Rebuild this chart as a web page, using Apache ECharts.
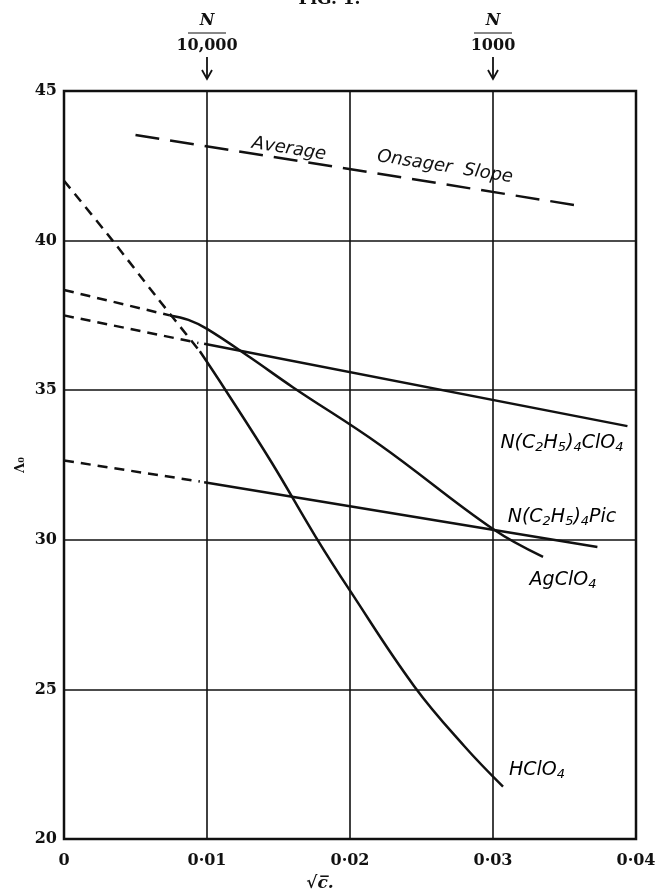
<!DOCTYPE html>
<html><head><meta charset="utf-8">
<script src="https://cdn.jsdelivr.net/npm/echarts@6/dist/echarts.min.js"></script>
<style>html,body{margin:0;padding:0;background:#fff}#c{width:659px;height:895px}</style>
</head><body><div id="c"></div>
<script>
// ---- data ----
const xTicks = [0, 0.01, 0.02, 0.03, 0.04];
const yTicks = [20, 25, 30, 35, 40, 45];
const onsagerSlope = [[0.005, 43.53], [0.0357, 41.19]];
const hclo4Extrap = [[0, 42.0], [0.0034, 40.0], [0.0065, 38.1], [0.0095, 36.3]];
const hclo4 = [[0.0095, 36.3], [0.0113, 35.0], [0.0145, 32.6], [0.0176, 30.1], [0.02, 28.3], [0.0245, 25.1], [0.028, 23.1], [0.0307, 21.75]];
const agclo4Extrap = [[0, 38.35], [0.0074, 37.5]];
const agclo4 = [[0.0074, 37.5], [0.0087, 37.35], [0.01, 37.05], [0.013, 36.1], [0.016, 35.1], [0.0221, 33.17], [0.03, 30.36], [0.0335, 29.43]];
const et4nclo4Extrap = [[0, 37.5], [0.0094, 36.58]];
const et4nclo4 = [[0.0098, 36.55], [0.0394, 33.8]];
const et4npicExtrap = [[0, 32.65], [0.0095, 31.95]];
const et4npic = [[0.0098, 31.92], [0.0373, 29.76]];
const topMarks = [[0.01, '10,000'], [0.03, '1000']];

const serif = '"DejaVu Serif", "Liberation Serif", serif';
const hand = '"DejaVu Sans", "Noto Sans", sans-serif';
const ink = '#111';

const chart = echarts.init(document.getElementById('c'), null, {renderer: 'canvas'});

function ln(data, dashed, smooth) {
  return {
    type: 'line', data: data, showSymbol: false, symbol: 'none', smooth: smooth || false,
    silent: true, animation: false,
    lineStyle: {color: ink, width: 2.5, type: dashed ? [10, 7] : 'solid', cap: 'butt'}
  };
}

const option = {
  animation: false,
  backgroundColor: '#fff',
  grid: {left: 64, right: 23, top: 91, bottom: 56, show: true, borderColor: ink, borderWidth: 2.5, backgroundColor: 'transparent'},
  xAxis: {
    type: 'value', min: xTicks[0], max: xTicks[xTicks.length - 1], interval: 0.01,
    axisLine: {show: false}, axisTick: {show: false},
    splitLine: {show: true, lineStyle: {color: ink, width: 1.6}},
    axisLabel: {margin: 14, color: ink, fontFamily: serif, fontWeight: 'bold', fontSize: 16,
      formatter: v => v === 0 ? '0' : v.toFixed(2).replace('.', '\u00b7')}
  },
  yAxis: {
    type: 'value', min: yTicks[0], max: yTicks[yTicks.length - 1], interval: 5,
    axisLine: {show: false}, axisTick: {show: false},
    splitLine: {show: true, lineStyle: {color: ink, width: 1.6}},
    axisLabel: {margin: 7, color: ink, fontFamily: serif, fontWeight: 'bold', fontSize: 16}
  },
  series: [
    Object.assign(ln(onsagerSlope, false), {lineStyle: {color: ink, width: 2.5, type: [24, 11]}}),
    ln(hclo4Extrap, true, 0.3),
    ln(hclo4, false, 0.4),
    ln(agclo4Extrap, true),
    ln(agclo4, false, 0.4),
    ln(et4nclo4Extrap, true),
    ln(et4nclo4, false),
    ln(et4npicExtrap, true),
    ln(et4npic, false)
  ]
};
chart.setOption(option);

function px(x, y) { return chart.convertToPixel({gridIndex: 0}, [x, y]); }

const rich = {
  n: {fontFamily: hand, fontStyle: 'italic', fontSize: 19, color: ink},
  s: {fontFamily: hand, fontStyle: 'italic', fontSize: 13, color: ink, padding: [9, 0, 0, 0]}
};
function chem(parts) {
  return parts.map(p => p[1] ? '{s|' + p[0] + '}' : '{n|' + p[0] + '}').join('');
}

const g = [];
// Fig caption (cut at top)
g.push({type: 'text', left: 'center', top: -9, style: {text: 'F\u026aG. 1.', font: 'bold 17px ' + serif, fill: ink}});
// top marks
topMarks.forEach(m => {
  const p = px(m[0], 45);
  g.push({type: 'text', x: p[0], y: 21, style: {text: 'N', font: 'italic bold 16px ' + serif, fill: ink, align: 'center', verticalAlign: 'middle'}});
  g.push({type: 'line', shape: {x1: p[0] - 19, y1: 33, x2: p[0] + 19, y2: 33}, style: {stroke: ink, lineWidth: 1.2}});
  g.push({type: 'text', x: p[0], y: 46, style: {text: m[1], font: 'bold 16px ' + serif, fill: ink, align: 'center', verticalAlign: 'middle'}});
  g.push({type: 'line', shape: {x1: p[0], y1: 57, x2: p[0], y2: 79}, style: {stroke: ink, lineWidth: 1.8}});
  g.push({type: 'polyline', shape: {points: [[p[0] - 5, 70], [p[0], 79], [p[0] + 5, 70]]}, style: {stroke: ink, lineWidth: 1.8, fill: null}});
});
// axis names
g.push({type: 'text', x: 320, y: 884, style: {text: '\u221ac\u0305.', font: 'italic bold 17px ' + serif, fill: ink, align: 'center', verticalAlign: 'middle'}});
g.push({type: 'text', x: 21, y: 465, rotation: Math.PI / 2, style: {text: '\u039b\u2080', font: 'bold 13px ' + serif, fill: ink, align: 'center', verticalAlign: 'middle'}});
// curve labels
const rot = -9 * Math.PI / 180;
g.push({type: 'text', x: 289, y: 149, rotation: rot, style: {text: 'Average', font: 'italic 18px ' + hand, fill: ink, align: 'center', verticalAlign: 'middle'}});
g.push({type: 'text', x: 445, y: 167, rotation: rot, style: {text: 'Onsager  Slope', font: 'italic 18px ' + hand, fill: ink, align: 'center', verticalAlign: 'middle'}});
g.push({type: 'text', x: 562, y: 443, style: {text: chem([['N(C'], ['2', 1], ['H'], ['5', 1], [')'], ['4', 1], ['ClO'], ['4', 1]]), rich: rich, align: 'center', verticalAlign: 'middle'}});
g.push({type: 'text', x: 562, y: 517, style: {text: chem([['N(C'], ['2', 1], ['H'], ['5', 1], [')'], ['4', 1], ['Pic']]), rich: rich, align: 'center', verticalAlign: 'middle'}});
g.push({type: 'text', x: 563, y: 580, style: {text: chem([['AgClO'], ['4', 1]]), rich: rich, align: 'center', verticalAlign: 'middle'}});
g.push({type: 'text', x: 537, y: 770, style: {text: chem([['HClO'], ['4', 1]]), rich: rich, align: 'center', verticalAlign: 'middle'}});

chart.setOption({graphic: {elements: g}});
</script>
</body></html>
